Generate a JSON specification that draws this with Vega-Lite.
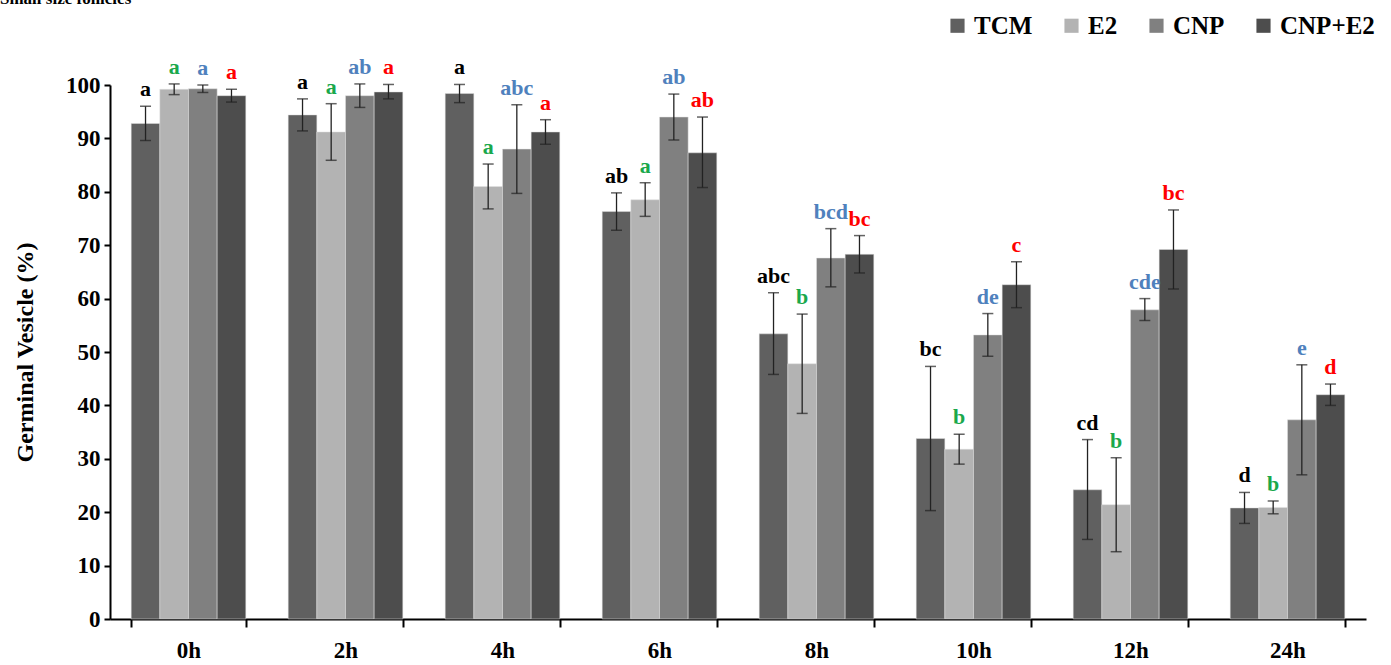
{
  "$schema": "https://vega.github.io/schema/vega-lite/v6.json",
  "autosize": "none",
  "width": 1256,
  "height": 534,
  "padding": {"left": 110, "top": 85, "right": 25, "bottom": 46},
  "background": "white",
  "title": {"text": "Small size follicles", "anchor": "start", "frame": "group", "dx": -110, "offset": 5, "fontSize": 17, "font": "'Liberation Serif', 'Times New Roman', serif", "fontWeight": "bold", "color": "black"},
  "config": {
    "view": {"stroke": null},
    "font": "'Liberation Serif', 'Times New Roman', serif",
    "axis": {"labelFont": "'Liberation Serif', 'Times New Roman', serif", "titleFont": "'Liberation Serif', 'Times New Roman', serif", "labelFontWeight": "bold", "titleFontWeight": "bold", "labelColor": "black", "titleColor": "black", "domainColor": "black", "tickColor": "black", "domainWidth": 2, "tickWidth": 2, "grid": false}
  },
  "data": {
    "values": [
      {"time": "0h", "group": "TCM", "mean": 92.8, "lo": 89.6, "hi": 96.0, "sig": "a"},
      {"time": "0h", "group": "E2", "mean": 99.2, "lo": 98.2, "hi": 100.2, "sig": "a"},
      {"time": "0h", "group": "CNP", "mean": 99.3, "lo": 98.6, "hi": 100.0, "sig": "a"},
      {"time": "0h", "group": "CNP+E2", "mean": 98.0, "lo": 96.8, "hi": 99.2, "sig": "a"},
      {"time": "2h", "group": "TCM", "mean": 94.4, "lo": 91.4, "hi": 97.4, "sig": "a"},
      {"time": "2h", "group": "E2", "mean": 91.2, "lo": 85.9, "hi": 96.5, "sig": "a"},
      {"time": "2h", "group": "CNP", "mean": 98.0, "lo": 95.8, "hi": 100.2, "sig": "ab"},
      {"time": "2h", "group": "CNP+E2", "mean": 98.7, "lo": 97.4, "hi": 100.1, "sig": "a"},
      {"time": "4h", "group": "TCM", "mean": 98.4, "lo": 96.7, "hi": 100.1, "sig": "a"},
      {"time": "4h", "group": "E2", "mean": 81.0, "lo": 76.8, "hi": 85.2, "sig": "a"},
      {"time": "4h", "group": "CNP", "mean": 88.0, "lo": 79.7, "hi": 96.3, "sig": "abc"},
      {"time": "4h", "group": "CNP+E2", "mean": 91.2, "lo": 88.9, "hi": 93.5, "sig": "a"},
      {"time": "6h", "group": "TCM", "mean": 76.3, "lo": 72.8, "hi": 79.8, "sig": "ab"},
      {"time": "6h", "group": "E2", "mean": 78.5, "lo": 75.4, "hi": 81.7, "sig": "a"},
      {"time": "6h", "group": "CNP", "mean": 94.0, "lo": 89.7, "hi": 98.3, "sig": "ab"},
      {"time": "6h", "group": "CNP+E2", "mean": 87.3, "lo": 80.8, "hi": 94.0, "sig": "ab"},
      {"time": "8h", "group": "TCM", "mean": 53.4, "lo": 45.8, "hi": 61.1, "sig": "abc"},
      {"time": "8h", "group": "E2", "mean": 47.8, "lo": 38.5, "hi": 57.1, "sig": "b"},
      {"time": "8h", "group": "CNP", "mean": 67.6, "lo": 62.2, "hi": 73.1, "sig": "bcd"},
      {"time": "8h", "group": "CNP+E2", "mean": 68.3, "lo": 64.8, "hi": 71.8, "sig": "bc"},
      {"time": "10h", "group": "TCM", "mean": 33.8, "lo": 20.3, "hi": 47.3, "sig": "bc"},
      {"time": "10h", "group": "E2", "mean": 31.8, "lo": 29.0, "hi": 34.6, "sig": "b"},
      {"time": "10h", "group": "CNP", "mean": 53.2, "lo": 49.2, "hi": 57.2, "sig": "de"},
      {"time": "10h", "group": "CNP+E2", "mean": 62.6, "lo": 58.3, "hi": 66.9, "sig": "c"},
      {"time": "12h", "group": "TCM", "mean": 24.2, "lo": 14.9, "hi": 33.6, "sig": "cd"},
      {"time": "12h", "group": "E2", "mean": 21.4, "lo": 12.6, "hi": 30.2, "sig": "b"},
      {"time": "12h", "group": "CNP", "mean": 57.9, "lo": 55.9, "hi": 60.0, "sig": "cde"},
      {"time": "12h", "group": "CNP+E2", "mean": 69.2, "lo": 61.8, "hi": 76.6, "sig": "bc"},
      {"time": "24h", "group": "TCM", "mean": 20.8, "lo": 17.9, "hi": 23.7, "sig": "d"},
      {"time": "24h", "group": "E2", "mean": 20.9, "lo": 19.7, "hi": 22.1, "sig": "b"},
      {"time": "24h", "group": "CNP", "mean": 37.3, "lo": 27.0, "hi": 47.6, "sig": "e"},
      {"time": "24h", "group": "CNP+E2", "mean": 42.0, "lo": 40.0, "hi": 44.0, "sig": "d"}
    ]
  },
  "encoding": {
    "x": {"field": "time", "type": "nominal", "sort": ["0h", "2h", "4h", "6h", "8h", "10h", "12h", "24h"],
      "scale": {"paddingInner": 0.27, "paddingOuter": 0.135},
      "axis": {"title": null, "labelAngle": 0, "labelFontSize": 23, "tickBand": "extent", "tickSize": 8, "labelPadding": 12}},
    "xOffset": {"field": "group", "type": "nominal", "sort": ["TCM", "E2", "CNP", "CNP+E2"], "scale": {"paddingInner": 0, "paddingOuter": 0}}
  },
  "layer": [
    {
      "mark": {"type": "bar", "stroke": "#e0e0e0", "strokeWidth": 0.5},
      "encoding": {
        "y": {"field": "mean", "type": "quantitative", "scale": {"domain": [0, 100]},
          "axis": {"title": "Germinal Vesicle (%)", "titleFontSize": 24, "labelFontSize": 23, "values": [0, 10, 20, 30, 40, 50, 60, 70, 80, 90, 100], "tickSize": 6, "labelPadding": 4, "titlePadding": 28}},
        "color": {"field": "group", "type": "nominal", "sort": ["TCM", "E2", "CNP", "CNP+E2"],
          "scale": {"domain": ["TCM", "E2", "CNP", "CNP+E2"], "range": ["#606060", "#b3b3b3", "#808080", "#4d4d4d"]},
          "legend": {"title": null, "orient": "none", "legendX": 835, "legendY": -72, "direction": "horizontal", "symbolType": "square", "symbolSize": 200, "symbolStrokeWidth": 0, "labelFont": "'Liberation Serif', 'Times New Roman', serif", "labelFontWeight": "bold", "labelFontSize": 25, "labelColor": "black", "columnPadding": 26, "labelOffset": 4}}
      }
    },
    {
      "mark": {"type": "rule", "color": "#222222", "strokeWidth": 1.3},
      "encoding": {"y": {"field": "lo", "type": "quantitative"}, "y2": {"field": "hi"}}
    },
    {
      "mark": {"type": "tick", "orient": "horizontal", "color": "#222222", "thickness": 1.5, "size": 11},
      "encoding": {"y": {"field": "lo", "type": "quantitative"}}
    },
    {
      "mark": {"type": "tick", "orient": "horizontal", "color": "#222222", "thickness": 1.5, "size": 11},
      "encoding": {"y": {"field": "hi", "type": "quantitative"}}
    },
    {
      "mark": {"type": "text", "baseline": "bottom", "dy": -5, "fontSize": 22, "fontWeight": "bold", "font": "'Liberation Serif', 'Times New Roman', serif"},
      "encoding": {
        "y": {"field": "hi", "type": "quantitative"},
        "text": {"field": "sig"},
        "fill": {"field": "group", "type": "nominal", "scale": {"domain": ["TCM", "E2", "CNP", "CNP+E2"], "range": ["#000000", "#1aa84c", "#4f81bd", "#ff0000"]}, "legend": null}
      }
    }
  ]
}
